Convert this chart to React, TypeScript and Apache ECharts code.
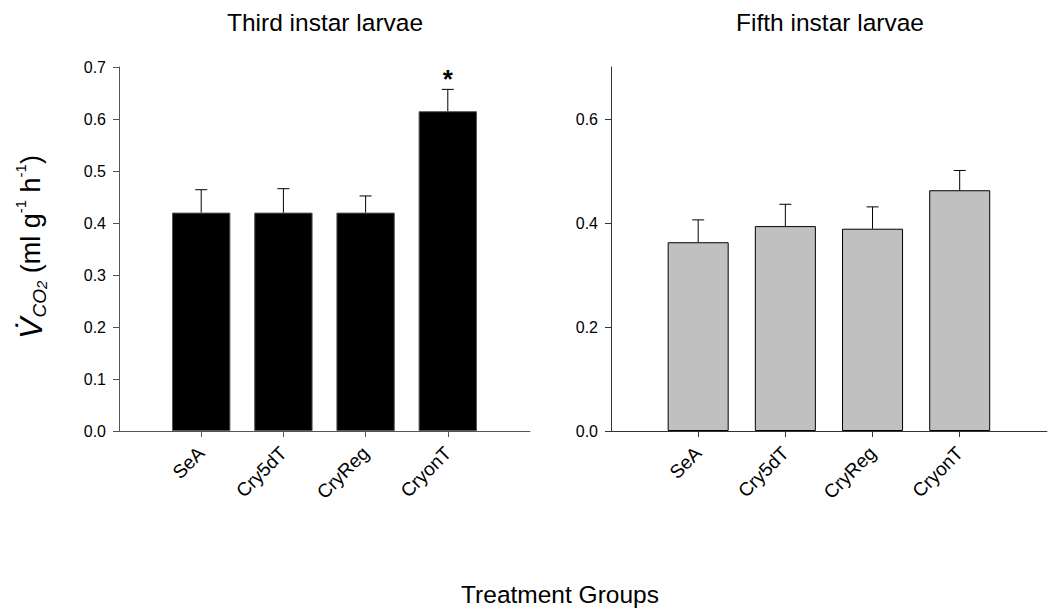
import React, { useEffect, useRef } from "react";
import * as echarts from "echarts";

const categories = ["SeA", "Cry5dT", "CryReg", "CryonT"];
const thirdMean = [0.42, 0.42, 0.42, 0.615];
const thirdSE = [0.044, 0.046, 0.032, 0.042];
const thirdSig = ["", "", "", "*"];
const fifthMean = [0.363, 0.394, 0.389, 0.463];
const fifthSE = [0.043, 0.042, 0.042, 0.038];
const fifthSig = ["", "", "", ""];
const leftTicks = [0, 0.1, 0.2, 0.3, 0.4, 0.5, 0.6, 0.7];
const rightTicks = [0, 0.2, 0.4, 0.6];

const FONT = "'Liberation Sans', Arial, sans-serif";
const axisCats = ["", ...categories, ""];

function makeX(gridIndex: number, lineColor: string) {
  return {
    type: "category",
    gridIndex,
    data: axisCats,
    boundaryGap: false,
    axisLine: { lineStyle: { color: lineColor, width: 1 } },
    axisTick: {
      length: 6,
      interval: (_i: number, v: string) => v !== "",
      lineStyle: { color: lineColor },
    },
    axisLabel: {
      interval: 0,
      rotate: 45,
      margin: 19,
      color: "#000",
      fontSize: 19,
      fontFamily: FONT,
    },
    splitLine: { show: false },
  };
}

function makeY(gridIndex: number, lineColor: string, ticks: number[]) {
  return {
    type: "value",
    gridIndex,
    min: 0,
    max: 0.7,
    interval: 0.1,
    axisLine: { show: true, lineStyle: { color: lineColor, width: 1 } },
    axisTick: { show: true, length: 6, customValues: ticks, lineStyle: { color: lineColor } },
    axisLabel: {
      customValues: ticks,
      margin: 13,
      color: "#000",
      fontSize: 16,
      fontFamily: FONT,
      formatter: (v: number) => v.toFixed(1),
    },
    splitLine: { show: false },
  };
}

function errData(mean: number[], se: number[], sig: string[]) {
  return mean.map((m, i) => [i + 1, m, m + se[i], sig[i]]);
}

function errRender(params: any, api: any) {
  const x = api.value(0);
  const m = api.value(1);
  const hi = api.value(2);
  const sig = api.value(3);
  const pBase = api.coord([x, m]);
  const pTop = api.coord([x, hi]);
  const half = 6;
  const children: any[] = [
    {
      type: "line",
      shape: { x1: pBase[0], y1: pBase[1], x2: pTop[0], y2: pTop[1] },
      style: { stroke: "#000", lineWidth: 1 },
    },
    {
      type: "line",
      shape: { x1: pTop[0] - half, y1: pTop[1], x2: pTop[0] + half, y2: pTop[1] },
      style: { stroke: "#000", lineWidth: 1 },
    },
  ];
  if (sig && sig !== "") {
    children.push({
      type: "text",
      x: pTop[0],
      y: pTop[1] - 10,
      style: {
        text: sig,
        fill: "#000",
        font: `bold 26px ${FONT}`,
        align: "center",
        verticalAlign: "middle",
      },
    });
  }
  return { type: "group", children };
}

export default function App() {
  const ref = useRef<HTMLDivElement>(null);
  useEffect(() => {
    if (!ref.current) return;
    const chart = echarts.init(ref.current, null, { renderer: "svg" });
    const option: any = {
      animation: false,
      backgroundColor: "#fff",
      grid: [
        { left: 119, top: 67, width: 411, height: 364 },
        { left: 611, top: 67, width: 438, height: 364 },
      ],
      xAxis: [makeX(0, "#555"), makeX(1, "#333")],
      yAxis: [makeY(0, "#555", leftTicks), makeY(1, "#333", rightTicks)],
      series: [
        {
          type: "bar",
          xAxisIndex: 0,
          yAxisIndex: 0,
          barWidth: "71%",
          data: [null, ...thirdMean, null],
          itemStyle: { color: "#000", borderColor: "#555", borderWidth: 1 },
        },
        {
          type: "bar",
          xAxisIndex: 1,
          yAxisIndex: 1,
          barWidth: "70%",
          data: [null, ...fifthMean, null],
          itemStyle: { color: "#c0c0c0", borderColor: "#000", borderWidth: 1 },
        },
        {
          type: "custom",
          xAxisIndex: 0,
          yAxisIndex: 0,
          renderItem: errRender,
          data: errData(thirdMean, thirdSE, thirdSig),
          encode: { x: 0, y: 2 },
          z: 5,
        },
        {
          type: "custom",
          xAxisIndex: 1,
          yAxisIndex: 1,
          renderItem: errRender,
          data: errData(fifthMean, fifthSE, fifthSig),
          encode: { x: 0, y: 2 },
          z: 5,
        },
      ],
      graphic: [
        {
          type: "text",
          x: 325,
          y: 22,
          style: {
            text: "Third instar larvae",
            fill: "#000",
            font: `24.5px ${FONT}`,
            align: "center",
            verticalAlign: "middle",
          },
        },
        {
          type: "text",
          x: 830,
          y: 22,
          style: {
            text: "Fifth instar larvae",
            fill: "#000",
            font: `24.5px ${FONT}`,
            align: "center",
            verticalAlign: "middle",
          },
        },
        {
          type: "text",
          x: 560,
          y: 594,
          style: {
            text: "Treatment Groups",
            fill: "#000",
            font: `24.5px ${FONT}`,
            align: "center",
            verticalAlign: "middle",
          },
        },
        {
          type: "text",
          x: 31,
          y: 247,
          rotation: Math.PI / 2,
          style: {
            text: "{v|V\u0307}{sub|CO}{sub2|2}{n| (ml g}{sup|-1}{n| h}{sup|-1}{n|)}",
            align: "center",
            verticalAlign: "middle",
            fill: "#000",
            rich: {
              v: { fontSize: 32, fontStyle: "italic", fontFamily: FONT, lineHeight: 36, verticalAlign: "middle" },
              sub: { fontSize: 19, fontStyle: "italic", fontFamily: FONT, lineHeight: 14, verticalAlign: "bottom" },
              sub2: { fontSize: 15, fontStyle: "italic", fontFamily: FONT, lineHeight: 5, verticalAlign: "bottom" },
              n: { fontSize: 27, fontFamily: FONT, lineHeight: 36, verticalAlign: "middle" },
              sup: { fontSize: 15, fontFamily: FONT, lineHeight: 19, verticalAlign: "top" },
            },
          },
        },
      ],
    };
    chart.setOption(option);
    return () => chart.dispose();
  }, []);
  return (
    <div
      ref={ref}
      style={{ position: "absolute", left: 0, top: 0, width: 1049, height: 616 }}
    />
  );
}
